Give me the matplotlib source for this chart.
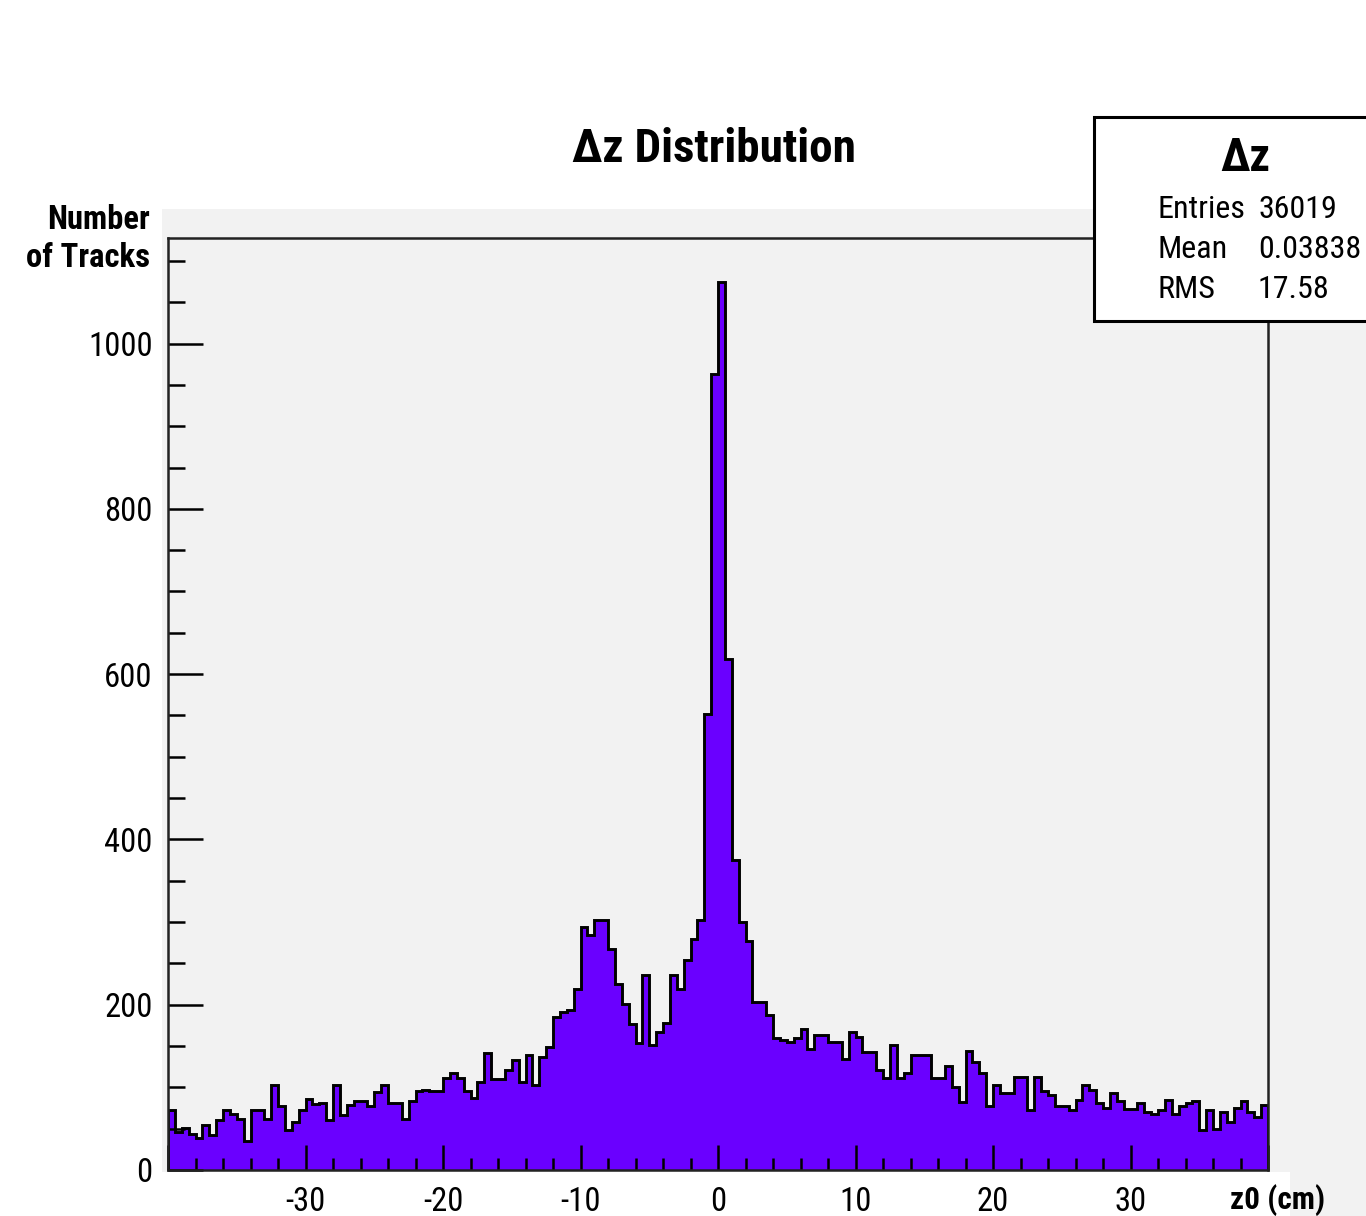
import os
import re

import matplotlib
matplotlib.use("Agg")
import matplotlib.pyplot as plt
import numpy as np
from matplotlib import font_manager as fm
from matplotlib.patches import Rectangle
from matplotlib.ticker import MultipleLocator

# bin contents, 160 bins of 0.5 cm from -40 to 40
counts = [
    72, 46, 51, 44, 39, 54, 42, 60, 72, 68, 62, 35, 73, 73, 62, 103, 77, 49, 58, 72,
    86, 80, 81, 60, 103, 66, 79, 84, 84, 77, 94, 103, 81, 81, 62, 83, 95, 97, 95, 96,
    111, 117, 111, 95, 87, 107, 141, 110, 110, 121, 133, 107, 139, 103, 137, 149, 185, 191, 193, 219,
    294, 284, 303, 303, 267, 225, 201, 177, 154, 236, 151, 167, 178, 236, 219, 254, 280, 302, 552, 963,
    1074, 618, 375, 300, 277, 203, 203, 188, 160, 157, 155, 160, 171, 147, 163, 163, 155, 155, 134, 167,
    161, 143, 143, 121, 111, 151, 111, 117, 139, 139, 139, 111, 111, 126, 100, 82, 144, 131, 117, 77,
    103, 93, 93, 113, 113, 73, 113, 95, 91, 77, 77, 72, 85, 103, 97, 81, 75, 93, 83, 74,
    74, 81, 70, 68, 73, 85, 68, 77, 81, 83, 48, 73, 50, 70, 58, 75, 83, 70, 64, 79,
]
x_range = (-40, 40)
x_tick_values = [-40, -30, -20, -10, 0, 10, 20, 30, 40]
x_tick_labels = ["", "-30", "-20", "-10", "0", "10", "20", "30", ""]
y_tick_values = [0, 200, 400, 600, 800, 1000]

title = "\u0394z Distribution"
y_label = "Number\nof Tracks"
x_label = "z0 (cm)"
stat_title = "\u0394z"
stat_names = ["Entries", "Mean", "RMS"]
stat_values = ["36019", "0.03838", "17.58"]

FILL = "#6a00ff"
PAD = "#f2f2f2"

W, H = 1366, 1216

# narrow sans faces, best first (the reference looks like Arial Narrow)
NARROW_FILES = [
    r"^liberationsansnarrow-(regular|bold)\.ttf$",
    r"^arialnb?\.ttf$",
    r"^notosans-condensed(bold)?\.ttf$",
    r"^robotocondensed-(regular|bold)\.ttf$",
    r"^dejavusanscondensed(-bold)?\.ttf$",
]


def fx(px):
    return px / W


def fy(py):
    return 1 - py / H


def _weight(f):
    w = f.weight
    if isinstance(w, str):
        w = fm.weight_dict.get(w, 400)
    return w


def narrow_font(bold):
    best = None
    for f in fm.fontManager.ttflist:
        base = os.path.basename(f.fname).lower()
        if (_weight(f) >= 600) != bold:
            continue
        for rank, pat in enumerate(NARROW_FILES):
            if re.match(pat, base):
                if best is None or rank < best[0]:
                    best = (rank, f.fname)
                break
    if best is None:
        return fm.FontProperties(family=["Liberation Sans", "DejaVu Sans"],
                                 weight="bold" if bold else "normal")
    return fm.FontProperties(fname=best[1])


def main():
    reg = narrow_font(False)
    bld = narrow_font(True)

    def fp(font, size):
        p = font.copy()
        p.set_size(size)
        return p

    fig = plt.figure(figsize=(W / 100, H / 100), dpi=100)

    # grey pad behind the frame, white strip for the x labels
    fig.add_artist(Rectangle((fx(162), 0), 1, fy(209), transform=fig.transFigure,
                             facecolor=PAD, edgecolor="none", zorder=-3))
    fig.add_artist(Rectangle((0, 0), fx(1290), fy(1172), transform=fig.transFigure,
                             facecolor="white", edgecolor="none", zorder=-2))

    ax = fig.add_axes([fx(168), fy(1170), fx(1268) - fx(168), fy(238) - fy(1170)])
    ax.set_facecolor(PAD)

    edges = np.linspace(x_range[0], x_range[1], len(counts) + 1)
    ax.stairs(counts, edges, fill=True, facecolor=FILL, edgecolor="none")
    ax.stairs(counts, edges, color="black", linewidth=2.1)

    ax.set_xlim(*x_range)
    ax.set_ylim(0, 1.05 * max(counts))

    ax.set_xticks(x_tick_values)
    ax.set_xticklabels(x_tick_labels)
    ax.xaxis.set_minor_locator(MultipleLocator(2))
    ax.set_yticks(y_tick_values)
    ax.yaxis.set_minor_locator(MultipleLocator(50))

    ax.tick_params(axis="x", which="major", direction="in", length=18, width=1.8, pad=11.5)
    ax.tick_params(axis="x", which="minor", direction="in", length=9, width=1.8)
    ax.tick_params(axis="y", which="major", direction="in", length=25, width=1.8, pad=11)
    ax.tick_params(axis="y", which="minor", direction="in", length=12.5, width=1.8)
    for lab in ax.get_xticklabels() + ax.get_yticklabels():
        lab.set_fontproperties(fp(reg, 23.5))
    for sp in ax.spines.values():
        sp.set_linewidth(1.8)
        sp.set_color("#222222")

    fig.text(fx(714), fy(149), title, ha="center", va="center", fontproperties=fp(bld, 34))
    fig.text(fx(150), fy(239), y_label, ha="right", va="center", ma="right",
             fontproperties=fp(bld, 23.5), linespacing=1.26)
    fig.text(fx(1278), fy(1200), x_label, ha="center", va="center", fontproperties=fp(bld, 22.5))

    # stats box
    fig.add_artist(Rectangle((fx(1094), fy(321)), fx(1380) - fx(1094), fy(117) - fy(321),
                             transform=fig.transFigure, facecolor="white",
                             edgecolor="black", linewidth=2.2, zorder=5))
    fig.text(fx(1245), fy(158), stat_title, ha="center", va="center",
             fontproperties=fp(bld, 33), zorder=6)
    for i, (name, val) in enumerate(zip(stat_names, stat_values)):
        y = fy(209 + 40 * i)
        fig.text(fx(1157), y, name, ha="left", va="center", fontproperties=fp(reg, 23), zorder=6)
        fig.text(fx(1258), y, val, ha="left", va="center", fontproperties=fp(reg, 23), zorder=6)

    fig.savefig("out.png", dpi=100)


if __name__ == "__main__":
    main()
